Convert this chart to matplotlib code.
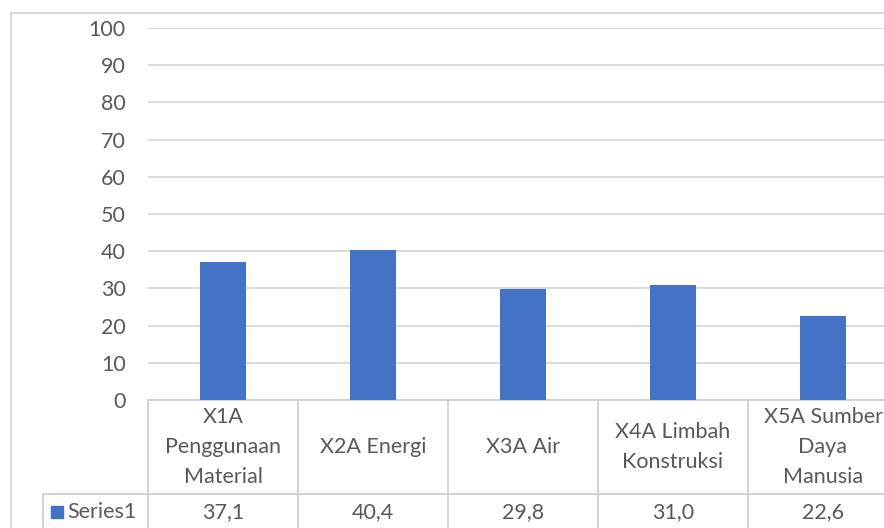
import matplotlib

matplotlib.use("Agg")
import matplotlib.pyplot as plt
from matplotlib.lines import Line2D
from matplotlib.patches import Rectangle
import matplotlib.transforms as mtransforms

categories = [
    "X1A\nPenggunaan\nMaterial",
    "X2A Energi",
    "X3A Air",
    "X4A Limbah\nKonstruksi",
    "X5A Sumber\nDaya\nManusia",
]
values = [37.1, 40.4, 29.8, 31.0, 22.6]
series_name = "Series1"
yticks = list(range(0, 101, 10))

W, H = 884, 528
BLUE = "#4472C4"
TEXT = "#595959"
GRID = "#d9d9d9"
LINE = "#d0d0d0"
FS = 15.5

plt.rcParams["font.family"] = ["Lato", "DejaVu Sans"]

fig = plt.figure(figsize=(W / 100, H / 100), dpi=100)

# plot area in pixels: x 148..898 (cropped on the right), y 28..400
px_left, px_right, px_top, px_bottom = 148, 898, 28, 400
ax = fig.add_axes([px_left / W, 1 - px_bottom / H,
                   (px_right - px_left) / W, (px_bottom - px_top) / H])

x = list(range(len(values)))
ax.bar(x, values, width=0.31, color=BLUE, zorder=3)
ax.set_xlim(-0.5, len(values) - 0.5)
ax.set_ylim(0, 100)
ax.set_yticks(yticks)
ax.set_yticklabels([str(t) for t in yticks])
ax.tick_params(axis="y", length=0, pad=16, labelsize=FS, labelcolor=TEXT)
ax.set_xticks([])
ax.grid(axis="y", color=GRID, linewidth=1.3, zorder=0)
for s in ax.spines.values():
    s.set_visible(False)

# data table below the plot: x in data units, y in axes fraction
row_h = (494 - px_bottom) / (px_bottom - px_top)
bottom_y = -(H + 5 - px_bottom) / (px_bottom - px_top)
val_y = -(512 - px_bottom) / (px_bottom - px_top)
trans = mtransforms.blended_transform_factory(ax.transData, ax.transAxes)

kw = dict(color=LINE, linewidth=1.3, transform=trans, clip_on=False)
series_left = -0.5 - (px_left - 43) / ((px_right - px_left) / len(values))
for i in range(len(values) + 1):
    ax.add_line(Line2D([i - 0.5, i - 0.5], [0, bottom_y], **kw))
ax.add_line(Line2D([-0.5, len(values) - 0.5], [0, 0], **kw))
ax.add_line(Line2D([series_left, len(values) - 0.5], [-row_h, -row_h], **kw))
ax.add_line(Line2D([series_left, series_left], [-row_h, bottom_y], **kw))

for i, (cat, v) in enumerate(zip(categories, values)):
    ax.text(i, -row_h / 2, cat, transform=trans, ha="center", va="center",
            fontsize=FS, color=TEXT, linespacing=1.62)
    ax.text(i, val_y, f"{v:.1f}".replace(".", ","), transform=trans,
            ha="center", va="center", fontsize=FS, color=TEXT)

# legend key in the series cell
ax.add_patch(Rectangle((series_left + 0.055, val_y - 0.017), 0.08, 0.034,
                       transform=trans, color=BLUE, clip_on=False))
ax.text(series_left + 0.165, val_y, series_name, transform=trans,
        ha="left", va="center", fontsize=FS, color=TEXT)

# chart area border (cropped at right and bottom)
fig.add_artist(Line2D([11 / W, 11 / W], [1 - 13 / H, 0], color=GRID,
                      linewidth=1.5, transform=fig.transFigure))
fig.add_artist(Line2D([11 / W, 1], [1 - 13 / H, 1 - 13 / H], color=GRID,
                      linewidth=1.5, transform=fig.transFigure))

fig.savefig("out.png", dpi=100)
